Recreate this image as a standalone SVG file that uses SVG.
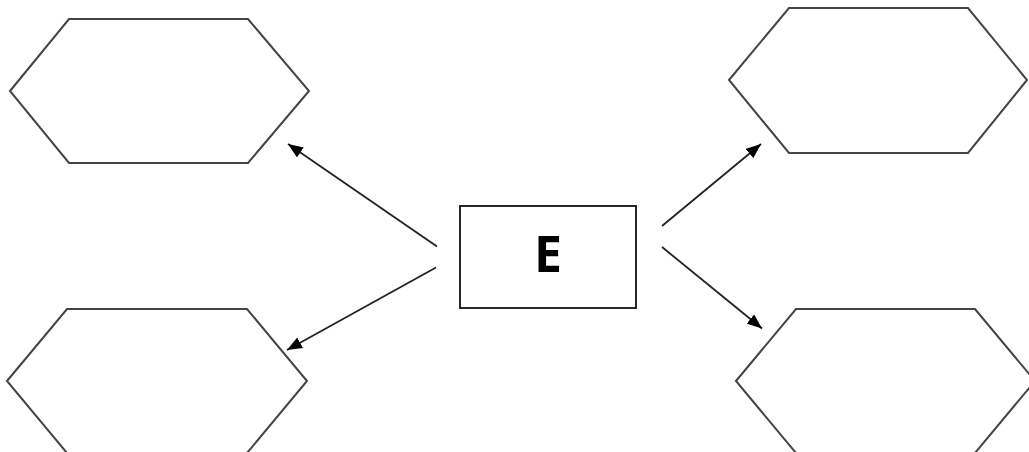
<svg xmlns="http://www.w3.org/2000/svg" width="1029" height="452" viewBox="0 0 1029 452">
<defs>
<style>
.hex{fill:#fff;stroke:#444;stroke-width:2;stroke-linejoin:miter}
.box{fill:#fff;stroke:#111;stroke-width:1.8}
.conn{stroke:#222;stroke-width:1.8;fill:none;marker-end:url(#ah)}
.lbl{font-family:"Open Sans","DejaVu Sans",sans-serif;font-weight:700;font-size:50px;fill:#000}
</style>
<marker id="ah" markerUnits="userSpaceOnUse" markerWidth="16" markerHeight="12" viewBox="0 0 16 12" refX="15" refY="6" orient="auto">
<path d="M0,0 L15,6 L0,12 Z" fill="#000"/>
</marker>
</defs>
<rect width="1029" height="452" fill="#fff"/>
<g id="hex-top-left"><polygon class="hex" points="10,91 69,19 248,19 309,91 248,163 69,163"/></g>
<g id="hex-top-right"><polygon class="hex" points="729,80 789,8 968,8 1027,80 968,153 789,153"/></g>
<g id="hex-bottom-left"><polygon class="hex" points="7,381 67,309 247,309 307,381 247,453 67,453"/></g>
<g id="hex-bottom-right"><polygon class="hex" points="736,381 796,309 975,309 1035,381 975,453 796,453"/></g>
<g id="node-e">
<rect class="box" x="460" y="206" width="176" height="102"/>
<text class="lbl" x="548" y="272" text-anchor="middle">E</text>
</g>
<g id="connectors">
<line class="conn" x1="437" y1="246.5" x2="288" y2="144"/>
<line class="conn" x1="436" y1="267.5" x2="287" y2="350"/>
<line class="conn" x1="662" y1="226" x2="761" y2="144"/>
<line class="conn" x1="662" y1="247" x2="762" y2="328.5"/>
</g>
</svg>
